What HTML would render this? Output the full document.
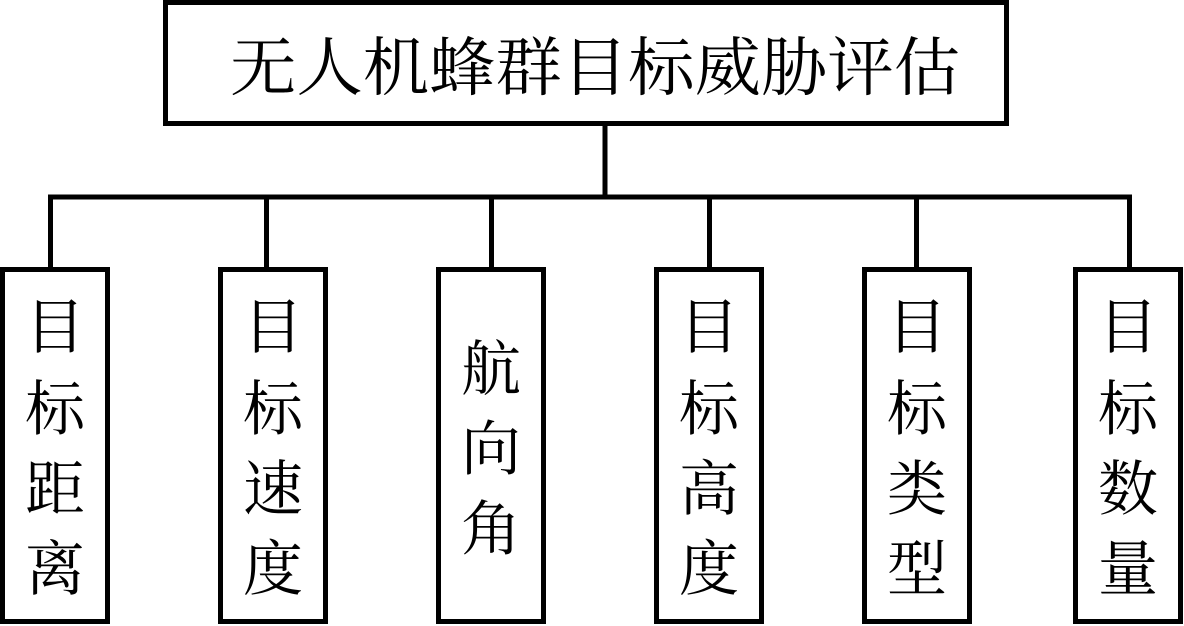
<!DOCTYPE html>
<html><head><meta charset="utf-8"><style>
html,body{margin:0;padding:0;background:#fff;}
svg{display:block;}
text{font-family:"Liberation Serif","Noto Serif CJK SC",serif;fill:#000;}
</style></head><body>
<svg width="1184" height="626" viewBox="0 0 1184 626" xmlns="http://www.w3.org/2000/svg">
<g fill="none" stroke="#000" stroke-width="5">
<rect x="165.5" y="2.5" width="841" height="121"/>
<line x1="605" y1="124" x2="605" y2="197"/>
<line x1="48" y1="197" x2="1132" y2="197"/>
<line x1="50.5" y1="197" x2="50.5" y2="270"/>
<line x1="266.5" y1="197" x2="266.5" y2="270"/>
<line x1="491.5" y1="197" x2="491.5" y2="270"/>
<line x1="709.5" y1="197" x2="709.5" y2="270"/>
<line x1="916.5" y1="197" x2="916.5" y2="270"/>
<line x1="1129.5" y1="197" x2="1129.5" y2="270"/>
<rect x="2.5" y="269.5" width="105" height="352"/>
<rect x="220.5" y="269.5" width="105" height="352"/>
<rect x="438.5" y="269.5" width="105" height="352"/>
<rect x="656.5" y="269.5" width="105" height="352"/>
<rect x="864.5" y="269.5" width="105" height="352"/>
<rect x="1075.5" y="269.5" width="105" height="352"/>
</g>
<text x="595" y="90" font-size="64" text-anchor="middle" textLength="730" lengthAdjust="spacingAndGlyphs">无人机蜂群目标威胁评估</text>
<g font-size="60" text-anchor="middle">
<text x="55" y="348">目</text><text x="55" y="430">标</text><text x="55" y="510">距</text><text x="55" y="590">离</text>
<text x="273" y="348">目</text><text x="273" y="430">标</text><text x="273" y="510">速</text><text x="273" y="590">度</text>
<text x="491" y="390">航</text><text x="491" y="470">向</text><text x="491" y="550">角</text>
<text x="709" y="348">目</text><text x="709" y="430">标</text><text x="709" y="510">高</text><text x="709" y="590">度</text>
<text x="917" y="348">目</text><text x="917" y="430">标</text><text x="917" y="510">类</text><text x="917" y="590">型</text>
<text x="1128" y="348">目</text><text x="1128" y="430">标</text><text x="1128" y="510">数</text><text x="1128" y="590">量</text>
</g>
</svg>
</body></html>
